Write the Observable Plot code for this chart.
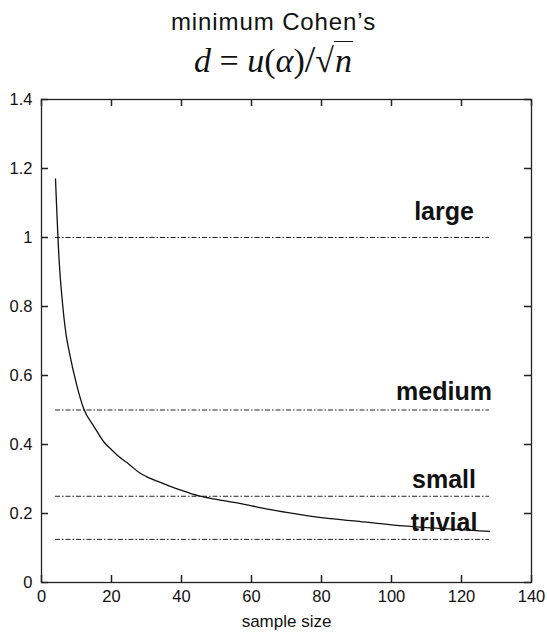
<!DOCTYPE html>
<html>
<head>
<meta charset="utf-8">
<script src="https://cdn.jsdelivr.net/npm/d3@7"></script>
<script src="https://cdn.jsdelivr.net/npm/@observablehq/plot@0.6"></script>
<style>
  html, body { margin: 0; padding: 0; background: #fff; }
  #wrap { position: relative; width: 547px; height: 635px; }
  #t1 { position: absolute; left: 0; width: 547px; top: 8px; text-align: center;
        font-family: "Liberation Sans", Arial, sans-serif; font-size: 24px; letter-spacing: 0.9px; color: #111; pointer-events: none; }
  #t2 { position: absolute; left: 0; width: 547px; top: 39px; text-align: center;
        font-family: "Liberation Serif", "Times New Roman", serif; font-size: 34px; color: #111; line-height: 40px; pointer-events: none; }
  #t2 .ov { border-top: 1.8px solid #111; padding-left: 1px; padding-right: 1px; }
  #chart { position: absolute; left: 0; top: 0; }
</style>
</head>
<body>
<div id="wrap">
  <div id="chart"></div>
  <div id="t1">minimum Cohen’s</div>
  <div id="t2"><i>d</i> = <i>u</i>(<i>α</i>)<span style="font-size:38px">/</span>√<span class="ov"><i>n</i></span></div>
</div>
<script>
// sample sizes and minimum Cohen's d
const sampleSize = [4, 5, 6, 7, 8, 10, 12, 15, 18, 20, 22, 25, 28, 30, 35, 40, 45, 50, 55, 60, 70, 80, 90, 100, 110, 120, 128];
const cohenD = [1.17, 0.94, 0.81, 0.72, 0.665, 0.575, 0.505, 0.452, 0.405, 0.385, 0.366, 0.343, 0.318, 0.307, 0.286, 0.267, 0.251, 0.241, 0.232, 0.222, 0.203, 0.188, 0.178, 0.167, 0.159, 0.153, 0.148];

// effect size thresholds
const thresholdNames = ["large", "medium", "small", "trivial"];
const thresholdValues = [1, 0.5, 0.25, 0.125];
const labelValues = [1.05, 0.53, 0.275, 0.148];
const lineStart = 4, lineEnd = 128;

const xTicks = [0, 20, 40, 60, 80, 100, 120, 140];
const yTicks = [0, 0.2, 0.4, 0.6, 0.8, 1, 1.2, 1.4];
const yTickLabels = ["0", "0.2", "0.4", "0.6", "0.8", "1", "1.2", "1.4"];
const xLabel = "sample size";

const curve = sampleSize.map((n, i) => ({n, d: cohenD[i]}));
const thresholds = thresholdNames.map((name, i) => ({name, v: thresholdValues[i], ly: labelValues[i]}));

const W = 547, H = 635;
const mL = 41, mR = 16, mT = 99, mB = 53;
const plotW = W - mL - mR, plotH = H - mT - mB;
const xMin = 0, xMax = 140, yMin = 0, yMax = 1.4;
const axisColor = "#222";
const tickFont = 16.5;
const tickLen = 7;
// tick length expressed in each scale's units
const tickDY = tickLen / plotH * (yMax - yMin);
const tickDX = tickLen / plotW * (xMax - xMin);

const chart = Plot.plot({
  width: W,
  height: H,
  marginLeft: mL,
  marginRight: mR,
  marginTop: mT,
  marginBottom: mB,
  style: {fontFamily: "'Liberation Sans', Arial, sans-serif"},
  x: {domain: [xMin, xMax]},
  y: {domain: [yMin, yMax]},
  marks: [
    // tick labels
    Plot.axisX(xTicks, {anchor: "bottom", tickSize: 0, tickPadding: 8, fontSize: tickFont, label: null, fill: "#111"}),
    Plot.axisY(yTicks, {anchor: "left", tickSize: 0, tickPadding: 9, fontSize: tickFont, tickFormat: (d, i) => yTickLabels[i], label: null, fill: "#111"}),
    Plot.text([xLabel], {frameAnchor: "bottom", text: d => d, dy: 44, fontSize: 17, lineAnchor: "bottom", fill: "#111"}),
    // threshold lines
    Plot.ruleY(thresholds, {y: "v", x1: lineStart, x2: lineEnd, stroke: "#222", strokeWidth: 1, strokeDasharray: "5,2,1.5,2"}),
    Plot.text(thresholds, {y: "ly", x: () => 115, text: "name", fontSize: 25, fontWeight: "bold", lineAnchor: "bottom", textAnchor: "middle", fill: "#111"}),
    // curve
    Plot.line(curve, {x: "n", y: "d", stroke: "#111", strokeWidth: 1.3, curve: "monotone-x"}),
    Plot.frame({stroke: axisColor, strokeWidth: 1.3}),
    // inward ticks on all four sides
    Plot.ruleX(xTicks, {x: d => d, y1: yMin, y2: yMin + tickDY, stroke: axisColor, strokeWidth: 1.5}),
    Plot.ruleX(xTicks, {x: d => d, y1: yMax - tickDY, y2: yMax, stroke: axisColor, strokeWidth: 1.5}),
    Plot.ruleY(yTicks, {y: d => d, x1: xMin, x2: xMin + tickDX, stroke: axisColor, strokeWidth: 1.5}),
    Plot.ruleY(yTicks, {y: d => d, x1: xMax - tickDX, x2: xMax, stroke: axisColor, strokeWidth: 1.5})
  ]
});
document.getElementById("chart").appendChild(chart);
</script>
</body>
</html>
